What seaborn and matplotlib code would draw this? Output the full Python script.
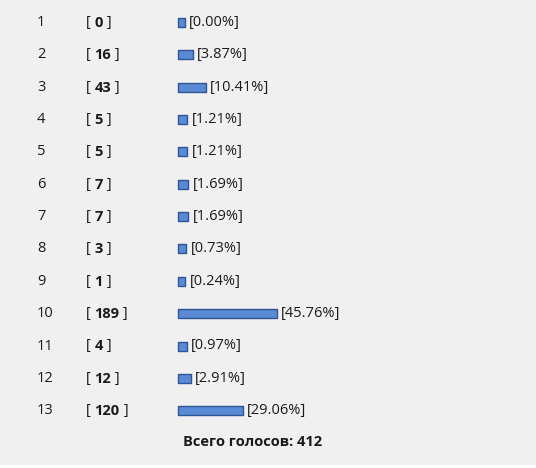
import matplotlib
matplotlib.use('agg')
import matplotlib.pyplot as plt
import matplotlib.patches as mpatches
import seaborn as sns
import pandas as pd

sns.set_theme(style='white')
plt.rcParams['font.family'] = ['Open Sans', 'DejaVu Sans']

# --- poll data
options = [str(i) for i in range(1, 14)]
votes = [0, 16, 43, 5, 5, 7, 7, 3, 1, 189, 4, 12, 120]
percents = [0.00, 3.87, 10.41, 1.21, 1.21, 1.69, 1.69, 0.73, 0.24, 45.76, 0.97, 2.91, 29.06]
total_label = 'Всего голосов: 412'

df = pd.DataFrame({'option': options, 'votes': votes, 'pct': percents})

BG = '#f0f0f0'
TXT = '#1a1a1a'
FS = 10.5
W, H = 536, 468
row0, step = 22.5, 32.35   # pixel y of first row, row spacing
bar_px = 178               # pixel x where bars start
stub = 3.5                 # minimal stub (in % units) so empty bars still show
ppp = 2.0                  # pixels per percent

fig = plt.figure(figsize=(W / 100, H / 100), dpi=100, facecolor=BG)
ax = fig.add_axes([0, 0, 1, 1])
ax.set_facecolor(BG)

sns.barplot(data=df, x='pct', y='option', orient='h',
            color='#5a8ad4', saturation=1, edgecolor='#2f5597', linewidth=1.0,
            width=9 / step, ax=ax)
# give every bar a small stub on the left, like the original poll widget
for p in ax.patches:
    p.set_x(-stub)
    p.set_width(p.get_width() + stub)
    p.set_joinstyle('round')

# map data units onto the pixel layout
ax.set_xlim(-bar_px / ppp - stub, (W - bar_px) / ppp - stub)
ax.set_ylim((H - row0) / step, -row0 / step)
ax.axis('off')

for i, row in df.iterrows():
    ax.text(-(bar_px - 37) / ppp - stub, i, row['option'], fontsize=FS,
            color=TXT, va='center', ha='left')
    t1 = ax.text(-(bar_px - 86) / ppp - stub, i, '[ ', fontsize=FS,
                 color=TXT, va='center', ha='left')
    t2 = ax.annotate(str(row['votes']), xy=(1, 0), xycoords=t1, fontsize=FS,
                     fontweight='bold', color=TXT, va='bottom', ha='left')
    ax.annotate(' ]', xy=(1, 0), xycoords=t2, fontsize=FS,
                color=TXT, va='bottom', ha='left')
    ax.annotate('[%.2f%%]' % row['pct'], xy=(row['pct'], i),
                xytext=(4, 0), textcoords='offset pixels', fontsize=FS,
                color=TXT, va='center', ha='left')

fig.text(253 / W, 1 - 442 / H, total_label, fontsize=FS, fontweight='bold',
         color=TXT, ha='center', va='center')

# white strip at the bottom edge
fig.patches.append(mpatches.Rectangle((0, 0), 1, 3 / H, transform=fig.transFigure,
                                      facecolor='white', edgecolor='none'))

fig.savefig('out.png', dpi=100, facecolor=BG)
